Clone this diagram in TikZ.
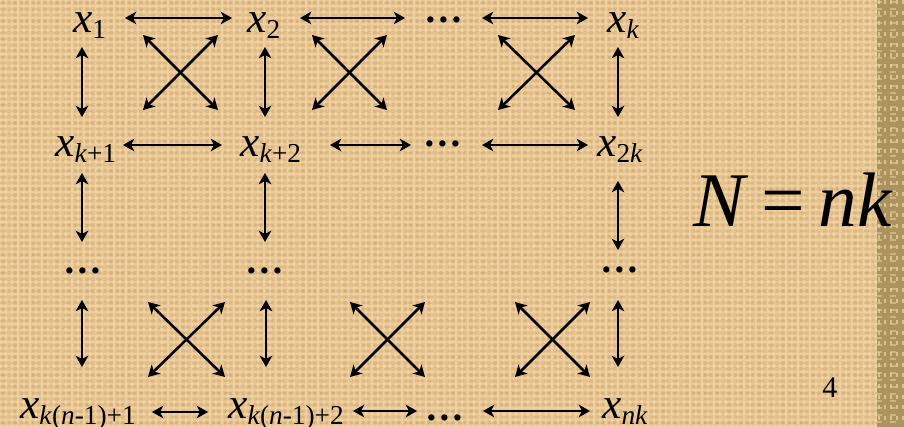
\documentclass[tikz,border=0pt]{standalone}
\usepackage{fontspec}
\setmainfont{Liberation Serif}
\usetikzlibrary{arrows.meta}
\definecolor{bgtan}{RGB}{229,192,139}
\definecolor{bglight}{RGB}{243,216,173}
\definecolor{bgdark}{RGB}{204,163,108}
\definecolor{stripc}{RGB}{172,146,92}
\definecolor{striplight}{RGB}{232,214,165}
\newcommand{\xv}[1]{\textit{x}\raisebox{-4.5pt}{\fontsize{20.5}{20.5}\selectfont #1}}
\begin{document}
\begin{tikzpicture}[x=0.75pt,y=-0.75pt,
  lbl/.style={inner sep=0pt, anchor=base west, font=\fontsize{32.5}{32.5}\selectfont},
  dotsn/.style={inner sep=0pt, font=\bfseries\fontsize{29}{29}\selectfont},
  arr/.style={line width=1.9pt, {Stealth[length=8.5pt,width=9.5pt,inset=2.5pt]}-{Stealth[length=8.5pt,width=9.5pt,inset=2.5pt]}}]
\useasboundingbox (0,0) rectangle (904,427);
% background
\fill[bgtan] (0,0) rectangle (904,427);
\foreach \i in {0,6,...,876} {
  \draw[bglight, line width=0.9pt, opacity=0.55] (\i,0) -- (\i,427);
  \draw[bgdark, line width=0.9pt, opacity=0.35, dash pattern=on 3pt off 4pt] (\i+3,0) -- (\i+3,427);
}
\foreach \j in {0,6,...,426} {
  \draw[bglight, line width=0.9pt, opacity=0.55] (0,\j) -- (877,\j);
  \draw[bgdark, line width=0.9pt, opacity=0.3, dash pattern=on 5pt off 3pt] (0,\j+3) -- (877,\j+3);
}
\fill[stripc] (877,0) rectangle (904,427);
\foreach \i in {879,885,...,903} {
  \draw[striplight, line width=1pt, opacity=0.7, dash pattern=on 3pt off 5pt] (\i,0) -- (\i,427);
}
\foreach \j in {2,9,...,426} {
  \draw[striplight, line width=1pt, opacity=0.5, dash pattern=on 4pt off 6pt] (877,\j) -- (904,\j);
}
% labels
\node[lbl] (x1)  at (73,33)  {\xv{1}};
\node[lbl] (x2)  at (247,33) {\xv{2}};
\node[lbl] (xk)  at (607,33) {\xv{\textit{k}}};
\node[lbl] (xk1) at (55,157) {\xv{\textit{k}+1}};
\node[lbl] (xk2) at (240,157) {\xv{\textit{k}+2}};
\node[lbl] (x2k) at (597,157) {\xv{2\textit{k}}};
\node[lbl] (xb1) at (20,419) {\xv{\textit{k}(\textit{n}-1)+1}};
\node[lbl] (xb2) at (228,419) {\xv{\textit{k}(\textit{n}-1)+2}};
\node[lbl] (xnk) at (602,419) {\xv{\textit{nk}}};
% dots
\node[dotsn] (d1) at (444,20) {…};
\node[dotsn] (d2) at (443,144) {…};
\node[dotsn] (d3) at (83,271) {…};
\node[dotsn] (d4) at (265,271) {…};
\node[dotsn] (d5) at (620,270) {…};
\node[dotsn] (d6) at (445,418) {…};
% formula and page number
\node[inner sep=0pt, anchor=base west, font=\fontsize{58}{58}\selectfont] (eq) at (693,227) {\textit{N}\hspace{0.17em}=\hspace{0.17em}\textit{nk}};
\node[inner sep=0pt, anchor=base west, font=\fontsize{22.5}{22.5}\selectfont] (pg) at (822,398) {4};
% horizontal arrows
\foreach \n/\yy/\xa/\xb in {1/18/125/232, 2/18/300/405, 3/18/482/588,
  4/145/123/222, 5/145/330/411, 6/145/482/588,
  7/412/152/208, 8/411/353/417, 9/411/483/590} {
  \coordinate (hA\n) at (\xa,\yy);
  \coordinate (hB\n) at (\xb,\yy);
  \draw[arr] (hA\n) -- (hB\n);
}
% vertical arrows
\foreach \n/\xx/\ya/\yb in {1/82/47/117, 2/265/47/117, 3/618/47/117,
  4/82/173/242, 5/265/173/242, 6/618/181/250,
  7/82/300/367, 8/266/300/367, 9/618/300/367} {
  \coordinate (vA\n) at (\xx,\ya);
  \coordinate (vB\n) at (\xx,\yb);
  \draw[arr] (vA\n) -- (vB\n);
}
% crosses
\foreach \n/\xa/\ya/\xb/\yb in {1/143/35/218/110, 2/312/35/387/110, 3/498/35/575/110,
  4/148/302/225/377, 5/350/302/425/377, 6/515/302/590/377} {
  \coordinate (cTL\n) at (\xa,\ya);
  \coordinate (cBR\n) at (\xb,\yb);
  \coordinate (cBL\n) at (\xa,\yb);
  \coordinate (cTR\n) at (\xb,\ya);
  \draw[arr] (cTL\n) -- (cBR\n);
  \draw[arr] (cBL\n) -- (cTR\n);
}
\end{tikzpicture}
\end{document}
